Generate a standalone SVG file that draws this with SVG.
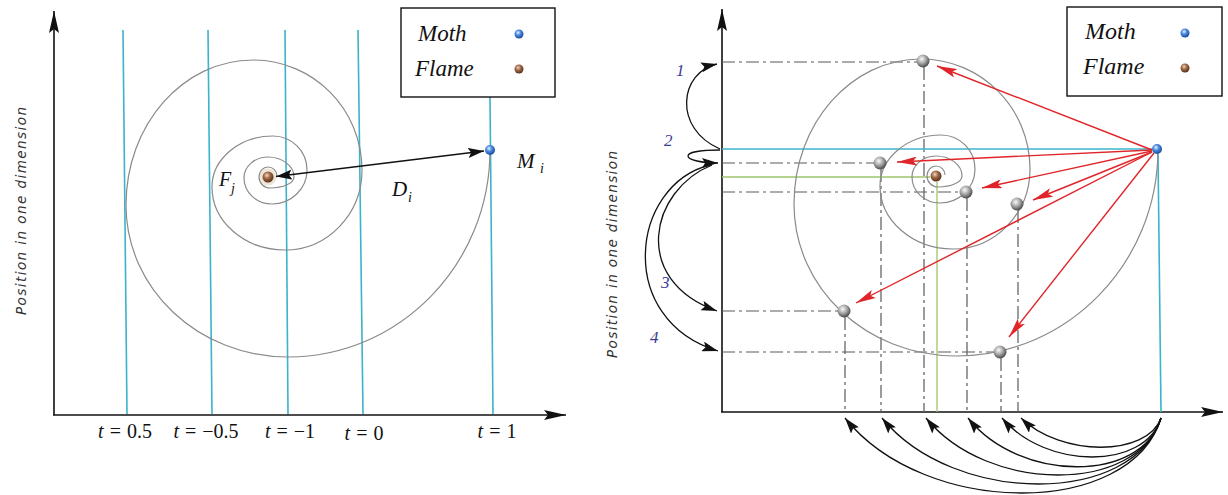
<svg xmlns="http://www.w3.org/2000/svg" xmlns:xlink="http://www.w3.org/1999/xlink" width="1228" height="495" viewBox="0 0 1228 495">
<style>
.axis{stroke:#111;stroke-width:1.6;fill:none}
.cyan{stroke:#3ab4cc;stroke-width:1.6;fill:none}
.green{stroke:#9cc66a;stroke-width:1.3;fill:none}
.spiral{stroke:#8a8a8a;stroke-width:1.2;fill:none}
.dd{stroke:#5a5a5a;stroke-width:1.2;fill:none;stroke-dasharray:13 4 3 4}
.red{stroke:#e0252a;stroke-width:1.4;fill:none}
.blk{stroke:#111;stroke-width:1.3;fill:none}
.leg{font-family:"Liberation Serif",serif;font-style:italic;fill:#111}
.math{font-family:"Liberation Serif",serif;fill:#111}
.ylab{font-family:"DejaVu Sans",sans-serif;font-style:italic;font-size:13.5px;fill:#333}
.num{font-family:"Liberation Serif",serif;font-style:italic;font-size:17px;fill:#3b3b98}
.box{fill:#fff;stroke:#111;stroke-width:1.4}
</style>
<defs>
<radialGradient id="gMoth" cx="0.4" cy="0.35" r="0.65">
<stop offset="0" stop-color="#e6f2ff"/><stop offset="0.45" stop-color="#4a8ae0"/><stop offset="1" stop-color="#1a4a9a"/>
</radialGradient>
<radialGradient id="gFlame" cx="0.4" cy="0.35" r="0.65">
<stop offset="0" stop-color="#f0d8c0"/><stop offset="0.45" stop-color="#a06a48"/><stop offset="1" stop-color="#5a3018"/>
</radialGradient>
<radialGradient id="gGray" cx="0.4" cy="0.35" r="0.65">
<stop offset="0" stop-color="#fafafa"/><stop offset="0.5" stop-color="#a8a8a8"/><stop offset="1" stop-color="#4a4a4a"/>
</radialGradient>
<marker id="axisArrow" viewBox="0 0 22 10" markerWidth="22" markerHeight="10" refX="22" refY="5" orient="auto" markerUnits="userSpaceOnUse">
<path d="M0,0 L22,5 L0,10 L4,5 z" fill="#111"/>
</marker>
<marker id="arr" viewBox="0 0 16 10" markerWidth="16" markerHeight="10" refX="16" refY="5" orient="auto-start-reverse" markerUnits="userSpaceOnUse">
<path d="M0,0 L16,5 L0,10 L3,5 z" fill="#111"/>
</marker>
<marker id="arrRed" viewBox="0 0 20 9" markerWidth="20" markerHeight="9" refX="20" refY="4.5" orient="auto" markerUnits="userSpaceOnUse">
<path d="M0,0 L20,4.5 L0,9 L4,4.5 z" fill="#e0252a"/>
</marker>
<path id="spiral" class="spiral" d="M490,150 C490,264.3 399.6,357 288,357 C198.5,357 126,289 126,205 C126,124.9 182.9,60 253,60 C313.2,60 362,109.2 362,170 C362,214.2 327.5,250 285,250 C244.7,250 212,221.8 212,187 C212,158.8 239.3,136 273,136 C291.8,136 307,151.2 307,170 C307,188.8 291.3,204 272,204 C256.5,204 244,192.4 244,178 C244,166.4 254.7,157 268,157 C282.4,157 294,166 294,177 C294,183.1 283.3,188 270,188 C263.9,188 259,183.1 259,177 C259,171.5 263,167 268,167 C273,167 277,171 277,176"/>
</defs>
<rect width="1228" height="495" fill="#fff"/>

<!-- LEFT PANEL -->
<g id="left-axes">
<line class="axis" x1="54" y1="415" x2="54" y2="11" marker-end="url(#axisArrow)"/>
<line class="axis" x1="53" y1="415" x2="566" y2="415" marker-end="url(#axisArrow)"/>
<text class="ylab" transform="translate(26,315) rotate(-90)" textLength="208" lengthAdjust="spacing">Position in one dimension</text>
</g>
<g id="left-time-lines">
<line class="cyan" x1="123" y1="30" x2="127" y2="414"/>
<line class="cyan" x1="208" y1="30" x2="212" y2="414"/>
<line class="cyan" x1="285" y1="30" x2="288" y2="414"/>
<line class="cyan" x1="358" y1="30" x2="363" y2="414"/>
<line class="cyan" x1="490" y1="97" x2="493" y2="414"/>
</g>
<g id="left-t-labels" class="math" font-size="20" text-anchor="middle" word-spacing="1">
<text x="125" y="438"><tspan font-style="italic">t</tspan> = 0.5</text>
<text x="206" y="438"><tspan font-style="italic">t</tspan> = −0.5</text>
<text x="290" y="438"><tspan font-style="italic">t</tspan> = −1</text>
<text x="364" y="440"><tspan font-style="italic">t</tspan> = 0</text>
<text x="497" y="438"><tspan font-style="italic">t</tspan> = 1</text>
</g>
<g id="left-spiral">
<circle cx="268" cy="177" r="8.5" fill="#efe4d8"/>
<use xlink:href="#spiral"/>
</g>
<g id="left-flame">
<circle cx="268" cy="177" r="5.5" fill="url(#gFlame)"/>
<text class="math" font-style="italic" font-size="20" x="219" y="186">F</text>
<text class="math" font-style="italic" font-size="14" x="231" y="193">j</text>
</g>
<g id="left-moth">
<circle cx="490" cy="150" r="5" fill="url(#gMoth)"/>
<text class="math" font-style="italic" font-size="21" x="517" y="168">M</text>
<text class="math" font-style="italic" font-size="14" x="540" y="173">i</text>
</g>
<g id="left-distance-label">
<text class="math" font-style="italic" font-size="21" x="392" y="196">D</text>
<text class="math" font-style="italic" font-size="14" x="408" y="202">i</text>
</g>
<g id="left-legend">
<rect class="box" x="401" y="8" width="154" height="89"/>
<text class="leg" font-size="23" x="418" y="41">Moth</text>
<text class="leg" font-size="23" x="415" y="76">Flame</text>
<circle cx="519" cy="34" r="4.5" fill="url(#gMoth)"/>
<circle cx="519" cy="69" r="4.5" fill="url(#gFlame)"/>
</g>

<!-- RIGHT PANEL -->
<g id="right-axes">
<line class="axis" x1="722" y1="412" x2="722" y2="9" marker-end="url(#axisArrow)"/>
<line class="axis" x1="721" y1="412" x2="1223" y2="412" marker-end="url(#axisArrow)"/>
<text class="ylab" transform="translate(617,358) rotate(-90)" textLength="207" lengthAdjust="spacing">Position in one dimension</text>
</g>
<g id="right-projections">
<line class="dd" x1="722" y1="62" x2="917" y2="62"/>
<line class="dd" x1="722" y1="163" x2="874" y2="163"/>
<line class="dd" x1="722" y1="192" x2="960" y2="192"/>
<line class="dd" x1="722" y1="311" x2="838" y2="311"/>
<line class="dd" x1="722" y1="352" x2="994" y2="352"/>
<line class="dd" x1="845" y1="317" x2="845" y2="412"/>
<line class="dd" x1="881" y1="169" x2="881" y2="412"/>
<line class="dd" x1="924" y1="67" x2="924" y2="412"/>
<line class="dd" x1="967" y1="198" x2="967" y2="412"/>
<line class="dd" x1="1001" y1="358" x2="1001" y2="412"/>
<line class="dd" x1="1018" y1="210" x2="1018" y2="412"/>
<line class="green" x1="722" y1="177" x2="930" y2="177"/>
<line class="green" x1="937" y1="182" x2="937" y2="412"/>
<line class="cyan" x1="722" y1="149" x2="1152" y2="149"/>
<line class="cyan" x1="1158" y1="154" x2="1161" y2="412"/>
</g>
<g id="right-spiral">
<use xlink:href="#spiral" transform="translate(668,-1)"/>
</g>
<g id="right-flame"><circle cx="936" cy="176" r="5.5" fill="url(#gFlame)"/></g>
<g id="right-moth"><circle cx="1157" cy="149" r="5" fill="url(#gMoth)"/></g>
<g id="right-positions">
<circle cx="923" cy="61" r="6.5" fill="url(#gGray)"/>
<circle cx="880" cy="163" r="6.5" fill="url(#gGray)"/>
<circle cx="966" cy="192" r="6.5" fill="url(#gGray)"/>
<circle cx="1017" cy="204" r="6.5" fill="url(#gGray)"/>
<circle cx="844" cy="311" r="6.5" fill="url(#gGray)"/>
<circle cx="1000" cy="352" r="6.5" fill="url(#gGray)"/>
</g>
<g id="right-order-labels">
<text class="num" x="676" y="76">1</text>
<text class="num" x="664" y="146">2</text>
<text class="num" x="661" y="288">3</text>
<text class="num" x="650" y="343">4</text>
</g>
<g id="right-legend">
<rect class="box" x="1067" y="7" width="155" height="89"/>
<text class="leg" font-size="24" x="1085" y="39">Moth</text>
<text class="leg" font-size="24" x="1083" y="74">Flame</text>
<circle cx="1185" cy="33" r="4.5" fill="url(#gMoth)"/>
<circle cx="1185" cy="68" r="4.5" fill="url(#gFlame)"/>
</g>

<!-- CONNECTORS -->
<g id="connectors">
<line class="blk" x1="276" y1="176.5" x2="484" y2="151" marker-start="url(#arr)" marker-end="url(#arr)"/>
<line class="red" x1="1152" y1="150" x2="937" y2="66" marker-end="url(#arrRed)"/>
<line class="red" x1="1152" y1="150" x2="897" y2="162" marker-end="url(#arrRed)"/>
<line class="red" x1="1152" y1="151" x2="982" y2="188" marker-end="url(#arrRed)"/>
<line class="red" x1="1152" y1="152" x2="1033" y2="200" marker-end="url(#arrRed)"/>
<line class="red" x1="1152" y1="152" x2="856" y2="303" marker-end="url(#arrRed)"/>
<line class="red" x1="1154" y1="153" x2="1009" y2="337" marker-end="url(#arrRed)"/>
<path class="blk" d="M720,149 C672,128 680,72 717,64" marker-end="url(#arr)"/>
<path class="blk" d="M720,150 C702,150 688,152 688,156 C688,160 702,163 718,163" marker-end="url(#arr)"/>
<path class="blk" d="M712,165 C650,190 630,280 717,311" marker-end="url(#arr)"/>
<path class="blk" d="M710,165 C630,185 615,320 718,351" marker-end="url(#arr)"/>
<path class="blk" d="M1161,418 C1131,518 925,518 845,418" marker-end="url(#arr)"/>
<path class="blk" d="M1161,418 C1134,506 954,506 882,418" marker-end="url(#arr)"/>
<path class="blk" d="M1161,418 C1138,494 988,494 926,418" marker-end="url(#arr)"/>
<path class="blk" d="M1161,418 C1142,483 1020,483 968,418" marker-end="url(#arr)"/>
<path class="blk" d="M1161,418 C1145,470 1046,470 1002,418" marker-end="url(#arr)"/>
<path class="blk" d="M1161,418 C1147,457 1061,457 1021,418" marker-end="url(#arr)"/>
</g>
</svg>
